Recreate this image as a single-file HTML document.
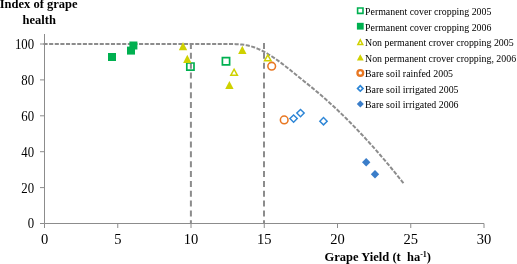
<!DOCTYPE html>
<html><head><meta charset="utf-8"><style>
html,body{margin:0;padding:0;background:#fff;}
svg{display:block;will-change:transform;}
text{font-family:"Liberation Serif",serif;fill:#000;}
.yt{font-size:13.55px;}
.xt{font-size:14.5px;}
.lg{font-size:9.9px;}
.tt{font-size:12.5px;font-weight:bold;}
</style></head><body>
<svg width="517" height="264" viewBox="0 0 517 264">
<line x1="44.5" y1="34" x2="44.5" y2="223.5" stroke="#8c8c8c" stroke-width="1"/>
<line x1="44.5" y1="223.5" x2="484.0" y2="223.5" stroke="#8c8c8c" stroke-width="1"/>
<line x1="40.0" y1="223.5" x2="44.5" y2="223.5" stroke="#8c8c8c" stroke-width="1"/>
<text transform="translate(34.1,228.40) scale(0.945,1)" text-anchor="end" class="yt">0</text>
<line x1="40.0" y1="187.6" x2="44.5" y2="187.6" stroke="#8c8c8c" stroke-width="1"/>
<text transform="translate(34.1,192.50) scale(0.945,1)" text-anchor="end" class="yt">20</text>
<line x1="40.0" y1="151.7" x2="44.5" y2="151.7" stroke="#8c8c8c" stroke-width="1"/>
<text transform="translate(34.1,156.60) scale(0.945,1)" text-anchor="end" class="yt">40</text>
<line x1="40.0" y1="115.8" x2="44.5" y2="115.8" stroke="#8c8c8c" stroke-width="1"/>
<text transform="translate(34.1,120.70) scale(0.945,1)" text-anchor="end" class="yt">60</text>
<line x1="40.0" y1="79.9" x2="44.5" y2="79.9" stroke="#8c8c8c" stroke-width="1"/>
<text transform="translate(34.1,84.80) scale(0.945,1)" text-anchor="end" class="yt">80</text>
<line x1="40.0" y1="44.0" x2="44.5" y2="44.0" stroke="#8c8c8c" stroke-width="1"/>
<text transform="translate(34.1,48.90) scale(0.945,1)" text-anchor="end" class="yt">100</text>
<line x1="44.5" y1="223.5" x2="44.5" y2="228.0" stroke="#8c8c8c" stroke-width="1"/>
<text x="44.5" y="244" text-anchor="middle" class="xt">0</text>
<line x1="117.75" y1="223.5" x2="117.75" y2="228.0" stroke="#8c8c8c" stroke-width="1"/>
<text x="117.75" y="244" text-anchor="middle" class="xt">5</text>
<line x1="191.0" y1="223.5" x2="191.0" y2="228.0" stroke="#8c8c8c" stroke-width="1"/>
<text x="191.0" y="244" text-anchor="middle" class="xt">10</text>
<line x1="264.25" y1="223.5" x2="264.25" y2="228.0" stroke="#8c8c8c" stroke-width="1"/>
<text x="264.25" y="244" text-anchor="middle" class="xt">15</text>
<line x1="337.5" y1="223.5" x2="337.5" y2="228.0" stroke="#8c8c8c" stroke-width="1"/>
<text x="337.5" y="244" text-anchor="middle" class="xt">20</text>
<line x1="410.75" y1="223.5" x2="410.75" y2="228.0" stroke="#8c8c8c" stroke-width="1"/>
<text x="410.75" y="244" text-anchor="middle" class="xt">25</text>
<line x1="484.0" y1="223.5" x2="484.0" y2="228.0" stroke="#8c8c8c" stroke-width="1"/>
<text x="484.0" y="244" text-anchor="middle" class="xt">30</text>
<line x1="190.9" y1="43" x2="190.9" y2="223.5" stroke="#8c8c8c" stroke-width="2" stroke-dasharray="6,3.85"/>
<line x1="264.0" y1="43" x2="264.0" y2="223.5" stroke="#8c8c8c" stroke-width="2" stroke-dasharray="6,3.85"/>
<path d="M43.5,44 L226,44 L228.0,44.00 L230.0,44.00 L232.0,44.03 L234.0,44.07 L236.0,44.13 L238.0,44.23 L240.0,44.37 L242.0,44.57 L244.0,44.82 L246.0,45.14 L248.0,45.54 L250.0,46.04 L252.0,46.61 L254.0,47.27 L256.0,48.01 L258.0,48.83 L260.0,49.73 L262.0,50.70 L264.0,51.74 L266.0,52.84 L268.0,54.01 L270.0,55.24 L272.0,56.52 L274.0,57.85 L276.0,59.23 L278.0,60.65 L280.0,62.11 L282.0,63.61 L284.0,65.13 L286.0,66.68 L288.0,68.25 L290.0,69.84 L292.0,71.45 L294.0,73.06 L296.0,74.68 L298.0,76.31 L300.0,77.93 L302.0,79.55 L304.0,81.16 L306.0,82.78 L308.0,84.40 L310.0,86.02 L312.0,87.65 L314.0,89.30 L316.0,90.96 L318.0,92.64 L320.0,94.33 L322.0,96.05 L324.0,97.79 L326.0,99.55 L328.0,101.33 L330.0,103.14 L332.0,104.96 L334.0,106.80 L336.0,108.67 L338.0,110.55 L340.0,112.46 L342.0,114.38 L344.0,116.33 L346.0,118.30 L348.0,120.28 L350.0,122.29 L352.0,124.32 L354.0,126.36 L356.0,128.43 L358.0,130.52 L360.0,132.63 L362.0,134.75 L364.0,136.90 L366.0,139.07 L368.0,141.25 L370.0,143.46 L372.0,145.68 L374.0,147.93 L376.0,150.19 L378.0,152.47 L380.0,154.77 L382.0,157.10 L384.0,159.44 L386.0,161.79 L388.0,164.17 L390.0,166.57 L392.0,168.99 L394.0,171.42 L396.0,173.87 L398.0,176.34 L400.0,178.83 L402.0,181.34 L404.2,184.12" fill="none" stroke="#8c8c8c" stroke-width="2" stroke-dasharray="4.1,1.52" stroke-linejoin="round"/>
<path d="M108.00,53.00 L116.00,53.00 L116.00,61.00 L108.00,61.00 Z" fill="#00b050"/>
<path d="M127.00,46.60 L135.00,46.60 L135.00,54.60 L127.00,54.60 Z" fill="#00b050"/>
<path d="M129.40,41.50 L137.40,41.50 L137.40,49.50 L129.40,49.50 Z" fill="#00b050"/>
<path d="M185.95,62.15 L194.85,62.15 L194.85,71.05 L185.95,71.05 Z M187.65,63.85 L193.15,63.85 L193.15,69.35 L187.65,69.35 Z" fill="#00b050" fill-rule="evenodd"/>
<path d="M221.55,56.85 L230.45,56.85 L230.45,65.75 L221.55,65.75 Z M223.25,58.55 L228.75,58.55 L228.75,64.05 L223.25,64.05 Z" fill="#00b050" fill-rule="evenodd"/>
<path d="M183.00,42.10 L187.20,50.30 L178.80,50.30 Z" fill="#cfd100"/>
<path d="M187.30,54.70 L191.50,62.90 L183.10,62.90 Z" fill="#cfd100"/>
<path d="M229.40,80.90 L233.60,89.10 L225.20,89.10 Z" fill="#cfd100"/>
<path d="M242.30,45.70 L246.50,53.90 L238.10,53.90 Z" fill="#cfd100"/>
<path d="M234.10,67.70 L238.65,75.90 L229.55,75.90 Z M234.10,70.79 L236.10,74.40 L232.10,74.40 Z" fill="#cfd100" fill-rule="evenodd"/>
<path d="M267.80,53.40 L272.35,61.60 L263.25,61.60 Z M267.80,56.49 L269.80,60.10 L265.80,60.10 Z" fill="#cfd100" fill-rule="evenodd"/>
<circle cx="271.7" cy="66.2" r="3.8249999999999997" fill="none" stroke="#e87722" stroke-width="1.55"/>
<circle cx="284.2" cy="119.9" r="3.8249999999999997" fill="none" stroke="#e87722" stroke-width="1.55"/>
<path d="M293.60,113.90 L298.30,118.60 L293.60,123.30 L288.90,118.60 Z M293.60,115.95 L296.25,118.60 L293.60,121.25 L290.95,118.60 Z" fill="#2e86d6" fill-rule="evenodd"/>
<path d="M300.50,108.40 L305.20,113.10 L300.50,117.80 L295.80,113.10 Z M300.50,110.45 L303.15,113.10 L300.50,115.75 L297.85,113.10 Z" fill="#2e86d6" fill-rule="evenodd"/>
<path d="M323.50,116.50 L328.20,121.20 L323.50,125.90 L318.80,121.20 Z M323.50,118.55 L326.15,121.20 L323.50,123.85 L320.85,121.20 Z" fill="#2e86d6" fill-rule="evenodd"/>
<path d="M366.20,158.10 L370.40,162.30 L366.20,166.50 L362.00,162.30 Z" fill="#3a7dc9"/>
<path d="M375.00,170.00 L379.20,174.20 L375.00,178.40 L370.80,174.20 Z" fill="#3a7dc9"/>
<path d="M356.80,7.15 L363.80,7.15 L363.80,14.15 L356.80,14.15 Z M358.40,8.75 L362.20,8.75 L362.20,12.55 L358.40,12.55 Z" fill="#00b050" fill-rule="evenodd"/>
<text x="365.0" y="15.1" class="lg">Permanent cover cropping 2005</text>
<path d="M356.90,22.81 L363.70,22.81 L363.70,29.61 L356.90,29.61 Z" fill="#00b050"/>
<text x="365.0" y="30.66" class="lg">Permanent cover cropping 2006</text>
<path d="M360.30,38.32 L363.95,45.22 L356.65,45.22 Z M360.30,41.53 L361.46,43.72 L359.14,43.72 Z" fill="#cfd100" fill-rule="evenodd"/>
<text x="365.0" y="46.22" class="lg">Non permanent crover cropping 2005</text>
<path d="M360.30,54.23 L363.70,60.43 L356.90,60.43 Z" fill="#cfd100"/>
<text x="365.0" y="61.78" class="lg">Non permanent crover cropping, 2006</text>
<circle cx="360.3" cy="72.89" r="2.85" fill="none" stroke="#e87722" stroke-width="2.3"/>
<text x="365.0" y="77.34" class="lg">Bare soil rainfed 2005</text>
<path d="M360.30,84.55 L364.20,88.45 L360.30,92.35 L356.40,88.45 Z M360.30,86.95 L361.80,88.45 L360.30,89.95 L358.80,88.45 Z" fill="#2e86d6" fill-rule="evenodd"/>
<text x="365.0" y="92.89999999999999" class="lg">Bare soil irrigated 2005</text>
<path d="M360.30,100.51 L363.80,104.01 L360.30,107.51 L356.80,104.01 Z" fill="#3a7dc9"/>
<text x="365.0" y="108.46" class="lg">Bare soil irrigated 2006</text>
<text x="38.6" y="8.4" text-anchor="middle" class="tt">Index of grape</text>
<text x="39.2" y="23.8" text-anchor="middle" class="tt">health</text>
<text x="324.6" y="261.3" class="tt">Grape Yield (t&#160; ha<tspan dy="-4.5" font-size="8">-1</tspan><tspan dy="4.5">)</tspan></text>
</svg>
</body></html>
